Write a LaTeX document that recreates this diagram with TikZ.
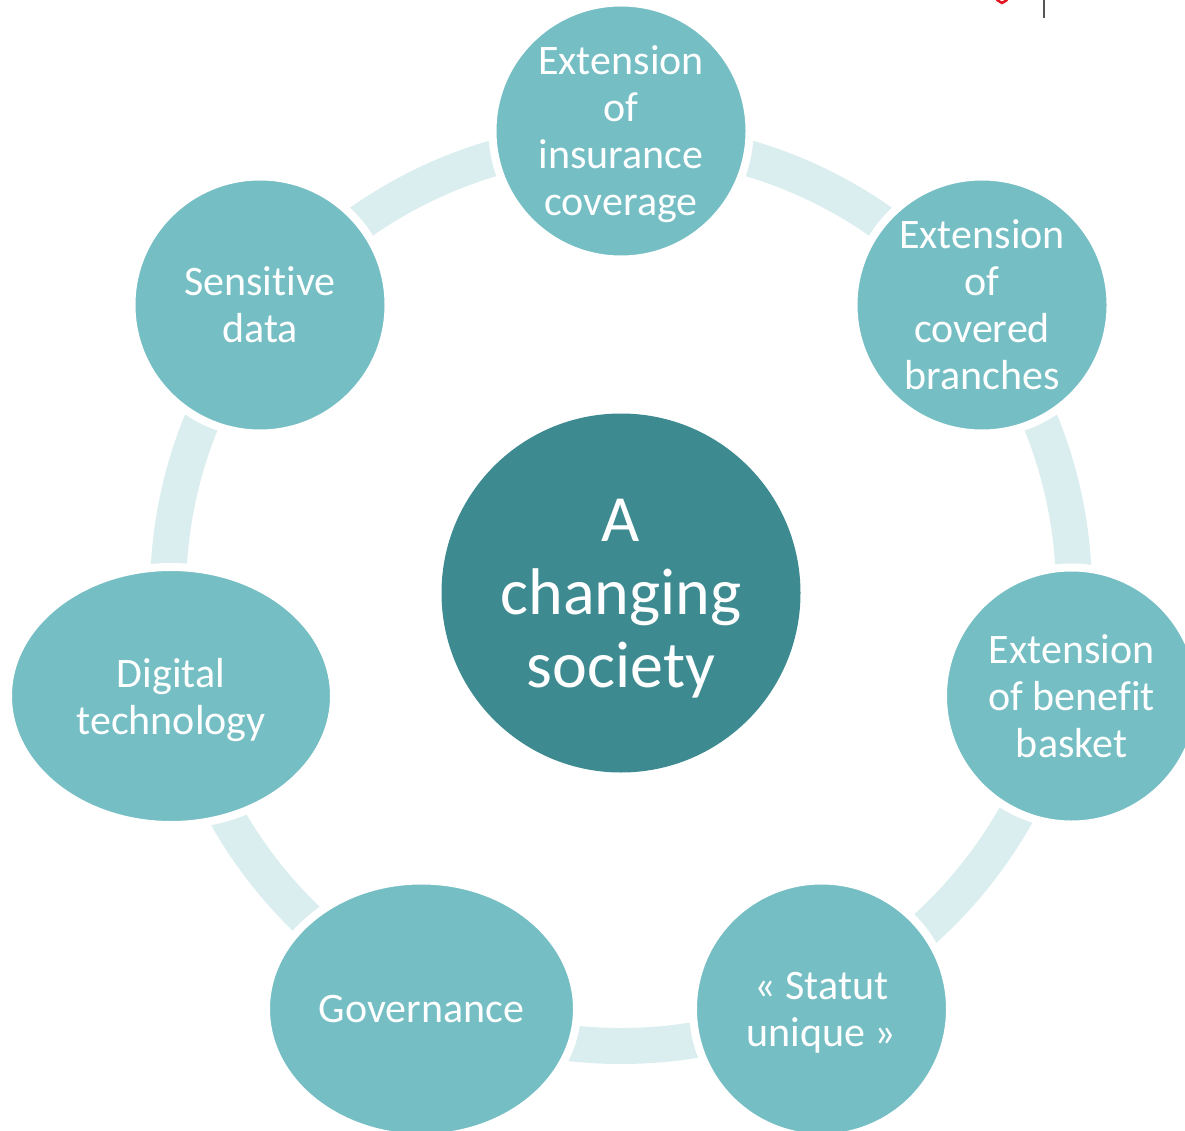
\documentclass[tikz,border=0pt]{standalone}
\usepackage{fontspec}
\setmainfont{Carlito}[Ligatures=NoCommon]
\usetikzlibrary{shapes.geometric}
\definecolor{ringc}{RGB}{218,237,239}
\definecolor{satc}{RGB}{116,190,196}
\definecolor{hubc}{RGB}{61,139,145}
\definecolor{markred}{RGB}{230,20,30}
\definecolor{rulegray}{RGB}{85,85,85}
\begin{document}
\begin{tikzpicture}[x=1pt,y=-1pt,
  sat/.style={circle, fill=satc, draw=white, line width=8pt, minimum size=257pt,
    inner sep=0pt, outer sep=0pt, text=white, align=center, text depth=0pt,
    font=\fontsize{42}{47}\selectfont},
  satoval/.style={sat, ellipse},
  hub/.style={circle, fill=hubc, minimum size=359pt, inner sep=0pt, outer sep=0pt,
    text=white, align=center, text depth=0pt, font=\fontsize{66}{73}\selectfont},
  ring/.style={draw=ringc, line width=36pt}]
\useasboundingbox (0,0) rectangle (1185,1131);
\clip (0,0) rectangle (1185,1131);

% ring behind the satellites
\coordinate (o) at (621,593);
\draw[ring] (o) circle[radius=453pt];

% hub
\node[hub] (ctr) at (o) {A\\changing\\society};

% satellites, clockwise from the top
\node[sat] (n1) at (621,131) {Extension\\of\\insurance\\coverage};
\node[sat] (n2) at (982,305) {Extension\\of\\covered\\branches};
\node[sat] (n3) at (1071.5,696) {Extension\\of benefit\\basket};
\node[sat] (n4) at (821.5,1009) {« Statut\\unique »};
\node[satoval, minimum width=311pt, minimum height=257pt] (n5) at (421.5,1009) {Governance};
\node[satoval, minimum width=326pt, minimum height=258pt] (n6) at (171,696) {Digital\\technology};
\node[sat] (n7) at (260,305) {Sensitive\\data};

% marks at the top edge
\draw[markred, line width=2.5pt, line cap=round] (997,0) -- (1002,3) -- (1007,0);
\draw[rulegray, line width=2.3pt] (1044,0) -- (1044,18);
\end{tikzpicture}
\end{document}
